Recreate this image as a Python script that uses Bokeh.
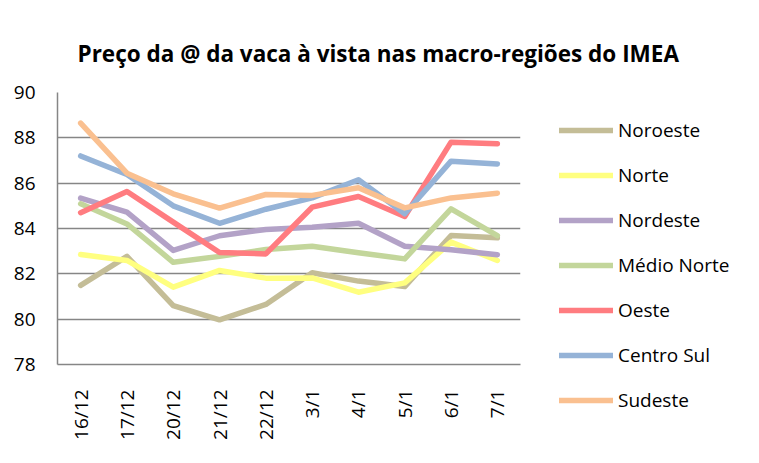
from bokeh.plotting import figure
from bokeh.models import Range1d, FactorRange, Legend, LegendItem, FixedTicker
from bokeh.embed import file_html
from bokeh.resources import INLINE
import math

dates = ["16/12", "17/12", "20/12", "21/12", "22/12", "3/1", "4/1", "5/1", "6/1", "7/1"]

noroeste = [81.49, 82.77, 80.60, 79.97, 80.65, 82.05, 81.68, 81.44, 83.69, 83.59]
norte = [82.85, 82.59, 81.41, 82.15, 81.81, 81.82, 81.19, 81.60, 83.40, 82.59]
nordeste = [85.34, 84.72, 83.03, 83.68, 83.96, 84.06, 84.23, 83.22, 83.06, 82.84]
medio_norte = [85.09, 84.20, 82.51, 82.77, 83.07, 83.22, 82.93, 82.66, 84.87, 83.69]
oeste = [84.70, 85.63, 84.28, 82.94, 82.88, 84.94, 85.41, 84.53, 87.81, 87.74]
centro_sul = [87.20, 86.38, 85.00, 84.23, 84.85, 85.35, 86.15, 84.65, 86.97, 86.85]
sudeste = [88.65, 86.44, 85.53, 84.90, 85.50, 85.46, 85.80, 84.91, 85.35, 85.56]

series_names = ["Noroeste", "Norte", "Nordeste", "Médio Norte", "Oeste", "Centro Sul", "Sudeste"]
series_values = [noroeste, norte, nordeste, medio_norte, oeste, centro_sul, sudeste]
series_colors = ["#C4BD97", "#FFFF80", "#B3A2C7", "#C3D69B", "#FF7C80", "#95B3D7", "#FAC090"]

y_ticks = [78, 80, 82, 84, 86, 88, 90]

FONT = "Open Sans"

p = figure(frame_width=463, frame_height=272, output_backend="svg", toolbar_location=None,
           x_range=FactorRange(*dates, range_padding=0), y_range=Range1d(78, 90),
           min_border_left=57, min_border_right=239, min_border_top=92, min_border_bottom=99,
           title="Preço da @ da vaca à vista nas macro-regiões do IMEA")

p.title.text_font = FONT
p.title.text_font_size = "22.5px"
p.title.text_font_style = "bold"
p.title.align = "left"
p.title.offset = 20
p.title.standoff = 48
p.title.text_color = "#000000"

p.outline_line_color = None
p.background_fill_color = "white"
p.border_fill_color = "white"

p.xgrid.grid_line_color = None
p.ygrid.grid_line_color = "#868686"
p.ygrid.grid_line_width = 1.5
p.yaxis.ticker = FixedTicker(ticks=y_ticks)

for ax in (p.xaxis[0], p.yaxis[0]):
    ax.axis_line_color = "#868686"
    ax.axis_line_width = 1.5
    ax.major_tick_out = 0
    ax.major_tick_in = 0
    ax.minor_tick_out = 0
    ax.minor_tick_in = 0
    ax.major_label_text_font = FONT
    ax.major_label_text_font_size = "19px"
    ax.major_label_text_color = "#000000"

p.yaxis.major_label_standoff = 22
p.xaxis.major_label_standoff = 25
p.xaxis.major_label_orientation = math.pi / 2

items = []
for name, vals, col in zip(series_names, series_values, series_colors):
    r = p.line(x=dates, y=vals, line_color=col, line_width=5.5, line_join="round", line_cap="round")
    items.append(LegendItem(label=name, renderers=[r]))

legend = Legend(items=items, location=(39, -49), orientation="vertical",
                glyph_width=54, glyph_height=20, label_height=20, spacing=19,
                label_standoff=5, padding=0, margin=0,
                border_line_color=None, background_fill_alpha=0,
                label_text_font=FONT, label_text_font_size="19px", label_text_color="#000000")
p.add_layout(legend, "right")

open("out.html", "w").write(file_html(p, INLINE))
